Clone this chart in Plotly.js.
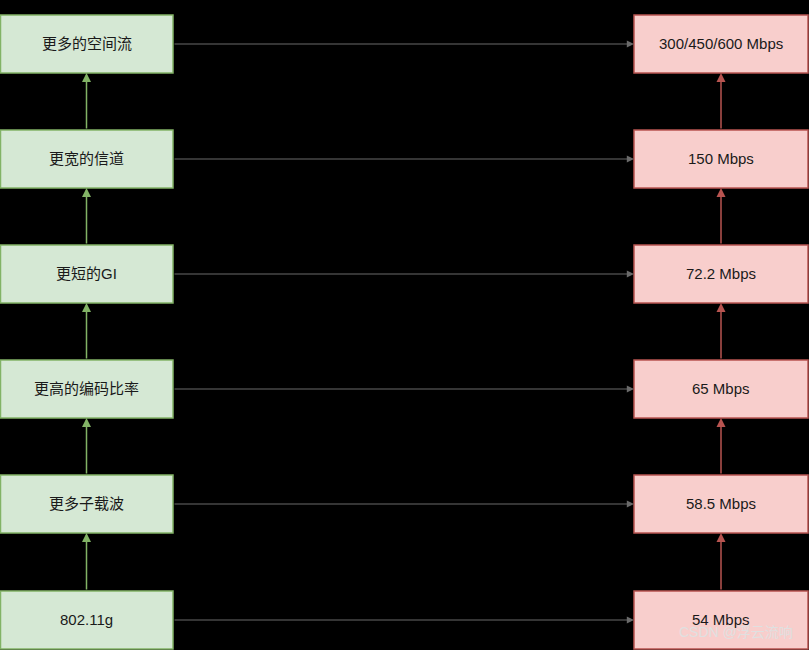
<!DOCTYPE html>
<html><head><meta charset="utf-8">
<script src="https://cdn.plot.ly/plotly-3.0.1.min.js"></script>
<style>body{margin:0;background:#000}</style></head>
<body><div id="c" style="width:809px;height:650px"></div>
<script>
const leftLabels = ["更多的空间流","更宽的信道","更短的GI","更高的编码比率","更多子载波","802.11g"];
const rightLabels = ["300/450/600 Mbps","150 Mbps","72.2 Mbps","65 Mbps","58.5 Mbps","54 Mbps"];
const rowTop = [15,130,245,360,475,591];
const boxH = 58, lx0 = 0, lx1 = 173, rx0 = 634, rx1 = 808;
const font = {family:"Liberation Sans, Noto Sans CJK SC, sans-serif", size:15, color:"#1a1a1a"};
const shapes = [], ann = [];
rowTop.forEach((t,i)=>{
  shapes.push({type:"rect",x0:lx0+0.5,x1:lx1,y0:t,y1:t+boxH,fillcolor:"#d5e8d4",line:{color:"#82b366",width:1.5}});
  shapes.push({type:"rect",x0:rx0,x1:rx1,y0:t,y1:t+boxH,fillcolor:"#f8cecc",line:{color:"#b85450",width:1.5}});
  const cy = t+boxH/2;
  ann.push({x:(lx0+lx1)/2,y:cy-1,text:leftLabels[i],showarrow:false,font});
  ann.push({x:(rx0+rx1)/2,y:cy-1,text:rightLabels[i],showarrow:false,font});
  ann.push({x:rx0,y:cy,ax:lx1,ay:cy,axref:"x",ayref:"y",xref:"x",yref:"y",text:"",showarrow:true,arrowhead:2,arrowsize:1.2,arrowwidth:1.2,arrowcolor:"#6a6a6a",standoff:0});
  if(i>0){
    const up = rowTop[i-1]+boxH;
    ann.push({x:(lx0+lx1)/2,y:up,ax:(lx0+lx1)/2,ay:t,axref:"x",ayref:"y",text:"",showarrow:true,arrowhead:2,arrowsize:1.2,arrowwidth:1.5,arrowcolor:"#82b366",standoff:0});
    ann.push({x:(rx0+rx1)/2,y:up,ax:(rx0+rx1)/2,ay:t,axref:"x",ayref:"y",text:"",showarrow:true,arrowhead:2,arrowsize:1.2,arrowwidth:1.5,arrowcolor:"#b85450",standoff:0});
  }
});
ann.push({x:795,y:632,xanchor:"right",text:"CSDN @浮云流响",showarrow:false,font:{family:"Liberation Sans, Noto Sans CJK SC, sans-serif",size:14,color:"#e0e0e0"}});
Plotly.newPlot("c",[],{
  width:809,height:650,margin:{l:0,r:0,t:0,b:0},
  paper_bgcolor:"#000",plot_bgcolor:"#000",
  xaxis:{range:[0,809],visible:false,fixedrange:true},
  yaxis:{range:[650,0],visible:false,fixedrange:true},
  shapes,annotations:ann,showlegend:false
},{displayModeBar:false,staticPlot:true});
</script></body></html>
